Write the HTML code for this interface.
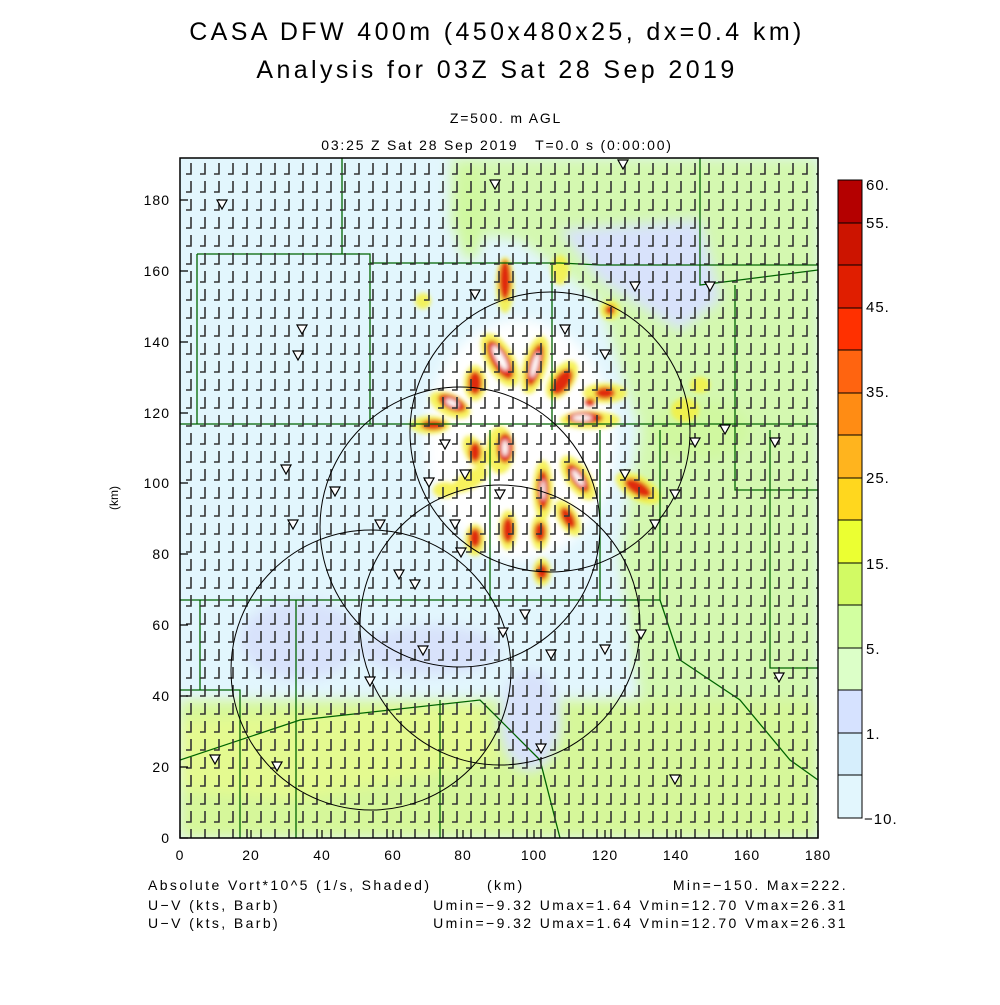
<!DOCTYPE html>
<html><head><meta charset="utf-8"><style>
html,body{margin:0;padding:0;background:#fff;}
svg text{font-family:"Liberation Sans",sans-serif;fill:#000;white-space:pre;}
</style></head><body>
<svg width="1000" height="1000" viewBox="0 0 1000 1000" xmlns="http://www.w3.org/2000/svg">
<defs>
<pattern id="barb" x="181" y="160" width="14" height="18" patternUnits="userSpaceOnUse">
<path d="M10,3 V14 H5" fill="none" stroke="#333" stroke-width="1.6"/>
</pattern>
<clipPath id="pc"><rect x="180" y="158" width="638" height="680"/></clipPath>
<filter id="bl" x="-50%" y="-50%" width="200%" height="200%"><feGaussianBlur stdDeviation="6"/></filter>
<filter id="bl2" x="-50%" y="-50%" width="200%" height="200%"><feGaussianBlur stdDeviation="2"/></filter>
</defs>
<text x="497" y="40" font-size="25" text-anchor="middle" letter-spacing="3.4">CASA DFW 400m (450x480x25, dx=0.4 km)</text>
<text x="497" y="78" font-size="25" text-anchor="middle" letter-spacing="3.4">Analysis for 03Z Sat 28 Sep 2019</text>
<text x="506" y="123" font-size="14" text-anchor="middle" letter-spacing="1.8">Z=500. m AGL</text>
<text x="497" y="150" font-size="14" text-anchor="middle" letter-spacing="1.8" xml:space="preserve">03:25 Z Sat 28 Sep 2019   T=0.0 s (0:00:00)</text>
<g clip-path="url(#pc)">
<rect x="180" y="158" width="638" height="680" fill="#e2f6fd"/>
<g filter="url(#bl)">
<polygon points="450,158 818,158 818,700 640,700 620,560 640,430 600,300 520,240 450,230" fill="#d4f8b0"/>
<polygon points="560,230 700,220 720,300 680,330 600,280" fill="#d8e2fb"/>
<polygon points="180,700 818,700 818,838 180,838" fill="#d6f79a"/>
<polygon points="180,720 480,705 500,760 300,800 180,790" fill="#e4fa90"/>
<ellipse cx="300" cy="640" rx="60" ry="40" fill="#d8e2fb"/>
<ellipse cx="430" cy="650" rx="70" ry="25" fill="#d8e2fb"/>
<ellipse cx="530" cy="720" rx="30" ry="50" fill="#d8e2fb"/>
<ellipse cx="470" cy="210" rx="15" ry="50" fill="#d0f8a0"/>
<ellipse cx="520" cy="440" rx="95" ry="120" fill="#ffffff"/>
<ellipse cx="700" cy="430" rx="50" ry="30" fill="#d0f8a0"/>
</g>
<g filter="url(#bl2)">
<g fill="#f6f040" opacity="0.85">
<ellipse cx="505" cy="285" rx="9" ry="28"/><ellipse cx="500" cy="360" rx="14" ry="30" transform="rotate(-30 500 360)"/>
<ellipse cx="535" cy="365" rx="12" ry="30" transform="rotate(15 535 365)"/><ellipse cx="562" cy="380" rx="12" ry="22" transform="rotate(35 562 380)"/>
<ellipse cx="475" cy="383" rx="11" ry="18"/><ellipse cx="450" cy="405" rx="22" ry="11" transform="rotate(25 450 405)"/>
<ellipse cx="430" cy="425" rx="20" ry="9"/><ellipse cx="605" cy="393" rx="22" ry="10"/><ellipse cx="590" cy="420" rx="30" ry="9"/>
<ellipse cx="500" cy="450" rx="14" ry="24"/><ellipse cx="475" cy="452" rx="10" ry="18" transform="rotate(-30 475 452)"/>
<ellipse cx="578" cy="478" rx="12" ry="26" transform="rotate(-35 578 478)"/><ellipse cx="638" cy="488" rx="25" ry="12" transform="rotate(30 638 488)"/>
<ellipse cx="543" cy="490" rx="10" ry="30"/><ellipse cx="568" cy="518" rx="10" ry="20" transform="rotate(-30 568 518)"/>
<ellipse cx="508" cy="530" rx="9" ry="20"/><ellipse cx="540" cy="532" rx="9" ry="18"/><ellipse cx="542" cy="572" rx="9" ry="14"/>
<ellipse cx="475" cy="540" rx="10" ry="16"/><ellipse cx="423" cy="301" rx="8" ry="8"/><ellipse cx="610" cy="310" rx="10" ry="10"/>
<ellipse cx="685" cy="410" rx="14" ry="12"/><ellipse cx="560" cy="270" rx="9" ry="15"/><ellipse cx="470" cy="480" rx="20" ry="9" transform="rotate(-30 470 480)"/>
<ellipse cx="700" cy="385" rx="10" ry="8"/><ellipse cx="445" cy="490" rx="12" ry="8"/>
</g>
<g fill="#e02a10">
<ellipse cx="505" cy="280" rx="6" ry="20"/><ellipse cx="500" cy="360" rx="9" ry="22" transform="rotate(-30 500 360)"/>
<ellipse cx="535" cy="365" rx="7" ry="22" transform="rotate(15 535 365)"/><ellipse cx="562" cy="382" rx="8" ry="15" transform="rotate(35 562 382)"/>
<ellipse cx="475" cy="383" rx="7" ry="12"/><ellipse cx="452" cy="403" rx="15" ry="7" transform="rotate(25 452 403)"/>
<ellipse cx="433" cy="425" rx="12" ry="5"/><ellipse cx="605" cy="393" rx="10" ry="6"/><ellipse cx="585" cy="418" rx="18" ry="6"/>
<ellipse cx="505" cy="448" rx="8" ry="15"/><ellipse cx="475" cy="452" rx="6" ry="10"/>
<ellipse cx="578" cy="478" rx="7" ry="17" transform="rotate(-35 578 478)"/><ellipse cx="638" cy="488" rx="15" ry="7" transform="rotate(30 638 488)"/>
<ellipse cx="543" cy="490" rx="6" ry="20"/><ellipse cx="568" cy="518" rx="6" ry="12" transform="rotate(-30 568 518)"/>
<ellipse cx="508" cy="530" rx="6" ry="13"/><ellipse cx="540" cy="532" rx="6" ry="10"/><ellipse cx="542" cy="572" rx="6" ry="8"/>
<ellipse cx="475" cy="538" rx="6" ry="10"/><ellipse cx="610" cy="310" rx="5" ry="5"/><ellipse cx="590" cy="402" rx="5" ry="4"/>
</g>
<g fill="#fff">
<ellipse cx="500" cy="358" rx="4" ry="14" transform="rotate(-30 500 358)"/><ellipse cx="535" cy="365" rx="3" ry="13" transform="rotate(15 535 365)"/>
<ellipse cx="582" cy="418" rx="10" ry="3"/><ellipse cx="578" cy="478" rx="3" ry="10" transform="rotate(-35 578 478)"/>
<ellipse cx="543" cy="490" rx="2" ry="10"/><ellipse cx="505" cy="448" rx="3" ry="8"/><ellipse cx="452" cy="403" rx="7" ry="3" transform="rotate(25 452 403)"/>
</g>
</g>
<g fill="none" stroke="#006400" stroke-width="1.3">
<path d="M180,424 H818"/><path d="M197,254 H370 V424"/><path d="M342,158 V254"/><path d="M197,254 V424"/>
<path d="M370,263 H560 L600,265 H818"/><path d="M552,265 V430"/><path d="M700,158 V285 L818,270"/>
<path d="M735,285 V490 H818"/><path d="M600,430 V600"/><path d="M490,430 V600"/><path d="M180,600 H660 V430"/>
<path d="M296,600 V838"/><path d="M180,690 H240 V838"/><path d="M660,600 L680,660 L740,700 L790,760 L818,780"/>
<path d="M770,430 V668 H818"/><path d="M180,760 L300,720 L480,700 L540,760 L560,838"/><path d="M440,700 V838"/>
<path d="M200,600 V690"/>
</g>
<rect x="180" y="158" width="638" height="680" fill="url(#barb)"/>
<g fill="none" stroke="#000" stroke-width="1">
<circle cx="550" cy="432" r="140"/><circle cx="460" cy="527" r="140"/><circle cx="500" cy="625" r="140"/><circle cx="371" cy="670" r="140"/>
</g>
<g fill="#fff" stroke="#000" stroke-width="1.2">
<path d="M217,200 h10 l-5,9z"/><path d="M297,325 h10 l-5,9z"/><path d="M293,351 h10 l-5,9z"/><path d="M281,465 h10 l-5,9z"/><path d="M288,520 h10 l-5,9z"/>
<path d="M330,487 h10 l-5,9z"/><path d="M375,520 h10 l-5,9z"/><path d="M394,570 h10 l-5,9z"/><path d="M410,580 h10 l-5,9z"/><path d="M365,677 h10 l-5,9z"/>
<path d="M418,646 h10 l-5,9z"/><path d="M498,628 h10 l-5,9z"/><path d="M546,650 h10 l-5,9z"/><path d="M600,645 h10 l-5,9z"/><path d="M636,630 h10 l-5,9z"/>
<path d="M536,744 h10 l-5,9z"/><path d="M670,775 h10 l-5,9z"/><path d="M210,755 h10 l-5,9z"/><path d="M272,762 h10 l-5,9z"/><path d="M774,673 h10 l-5,9z"/>
<path d="M770,438 h10 l-5,9z"/><path d="M705,282 h10 l-5,9z"/><path d="M630,282 h10 l-5,9z"/><path d="M490,180 h10 l-5,9z"/><path d="M618,160 h10 l-5,9z"/>
<path d="M470,290 h10 l-5,9z"/><path d="M560,325 h10 l-5,9z"/><path d="M600,350 h10 l-5,9z"/><path d="M440,440 h10 l-5,9z"/><path d="M460,470 h10 l-5,9z"/>
<path d="M495,490 h10 l-5,9z"/><path d="M620,470 h10 l-5,9z"/><path d="M650,520 h10 l-5,9z"/><path d="M670,490 h10 l-5,9z"/><path d="M720,425 h10 l-5,9z"/>
<path d="M450,520 h10 l-5,9z"/><path d="M520,610 h10 l-5,9z"/><path d="M456,548 h10 l-5,9z"/><path d="M424,478 h10 l-5,9z"/><path d="M690,438 h10 l-5,9z"/>
</g>
</g>
<rect x="180" y="158" width="638" height="680" fill="none" stroke="#000" stroke-width="1.5"/>
<g stroke="#000" stroke-width="1.2">
<path d="M180,838 v-8 M251,838 v-8 M322,838 v-8 M393,838 v-8 M463,838 v-8 M534,838 v-8 M605,838 v-8 M676,838 v-8 M747,838 v-8 M818,838 v-8"/>
<path d="M180,838 h8 M180,767 h8 M180,696 h8 M180,625 h8 M180,554 h8 M180,483 h8 M180,413 h8 M180,342 h8 M180,271 h8 M180,200 h8"/>
</g>
<g font-size="14" text-anchor="end" letter-spacing="1">
<text x="170" y="843">0</text><text x="170" y="772">20</text><text x="170" y="701">40</text><text x="170" y="630">60</text><text x="170" y="559">80</text>
<text x="170" y="488">100</text><text x="170" y="418">120</text><text x="170" y="347">140</text><text x="170" y="276">160</text><text x="170" y="205">180</text>
</g>
<g font-size="14" text-anchor="middle" letter-spacing="1">
<text x="180" y="860">0</text><text x="251" y="860">20</text><text x="322" y="860">40</text><text x="393" y="860">60</text><text x="463" y="860">80</text>
<text x="534" y="860">100</text><text x="605" y="860">120</text><text x="676" y="860">140</text><text x="747" y="860">160</text><text x="818" y="860">180</text>
</g>
<text x="118" y="498" font-size="12" text-anchor="middle" transform="rotate(-90 118 498)">(km)</text>
<g stroke="#000" stroke-width="1">
<rect x="838" y="180" width="24" height="43" fill="#b40000"/><rect x="838" y="223" width="24" height="42" fill="#cc1400"/>
<rect x="838" y="265" width="24" height="43" fill="#e01e00"/><rect x="838" y="308" width="24" height="42" fill="#ff3000"/>
<rect x="838" y="350" width="24" height="43" fill="#ff6410"/><rect x="838" y="393" width="24" height="42" fill="#ff8c14"/>
<rect x="838" y="435" width="24" height="43" fill="#ffb41e"/><rect x="838" y="478" width="24" height="42" fill="#ffd71e"/>
<rect x="838" y="520" width="24" height="43" fill="#ebff32"/><rect x="838" y="563" width="24" height="42" fill="#d2fa64"/>
<rect x="838" y="605" width="24" height="43" fill="#d2ffa0"/><rect x="838" y="648" width="24" height="42" fill="#dcffc8"/>
<rect x="838" y="690" width="24" height="43" fill="#d6e2ff"/><rect x="838" y="733" width="24" height="42" fill="#d6eefc"/>
<rect x="838" y="775" width="24" height="43" fill="#e2f6fd"/>
</g>
<g font-size="15" letter-spacing="1">
<text x="866" y="190">60.</text><text x="866" y="228">55.</text><text x="866" y="312">45.</text><text x="866" y="397">35.</text>
<text x="866" y="483">25.</text><text x="866" y="569">15.</text><text x="866" y="654">5.</text><text x="866" y="739">1.</text><text x="864" y="824">−10.</text>
</g>
<g font-size="14" letter-spacing="2.4">
<text x="148" y="890">Absolute Vort*10^5 (1/s, Shaded)</text>
<text x="487" y="890">(km)</text>
<text x="848" y="890" text-anchor="end">Min=−150. Max=222.</text>
<text x="148" y="910">U−V (kts, Barb)</text>
<text x="848" y="910" text-anchor="end">Umin=−9.32 Umax=1.64 Vmin=12.70 Vmax=26.31</text>
<text x="148" y="928">U−V (kts, Barb)</text>
<text x="848" y="928" text-anchor="end">Umin=−9.32 Umax=1.64 Vmin=12.70 Vmax=26.31</text>
</g>
</svg>
</body></html>
